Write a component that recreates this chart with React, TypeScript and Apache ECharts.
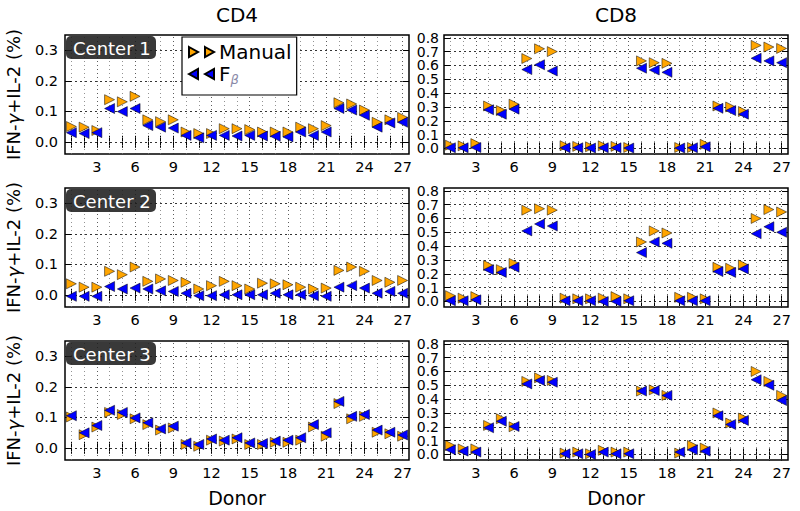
import React, { useEffect, useRef } from 'react';
import * as echarts from 'echarts';

const donors = [1, 2, 3, 4, 5, 6, 7, 8, 9, 10, 11, 12, 13, 14, 15, 16, 17, 18, 19, 20, 21, 22, 23, 24, 25, 26, 27];
const xTickLabels = [3, 6, 9, 12, 15, 18, 21, 24, 27];
const cd4YTicks = [0, 0.1, 0.2, 0.3];
const cd8YTicks = [0, 0.1, 0.2, 0.3, 0.4, 0.5, 0.6, 0.7, 0.8];
const centers = ['Center 1', 'Center 2', 'Center 3'];
const panels = ['CD4', 'CD8'];

// Center 1
const c1Cd4Manual = [0.050, 0.048, 0.037, 0.138, 0.131, 0.149, 0.072, 0.066, 0.072, 0.032, 0.027, 0.027, 0.043, 0.043, 0.040, 0.032, 0.032, 0.032, 0.048, 0.043, 0.053, 0.128, 0.124, 0.104, 0.064, 0.072, 0.080];
const c1Cd4Fbeta = [0.030, 0.027, 0.030, 0.109, 0.099, 0.109, 0.053, 0.048, 0.045, 0.021, 0.013, 0.021, 0.021, 0.019, 0.021, 0.019, 0.018, 0.016, 0.032, 0.021, 0.032, 0.109, 0.104, 0.087, 0.048, 0.062, 0.064];
const c1Cd8Manual = [0.024, 0.019, 0.035, 0.307, 0.274, 0.320, 0.650, 0.720, 0.700, 0.020, 0.015, 0.012, 0.019, 0.015, 0.007, 0.633, 0.620, 0.615, 0.007, 0.007, 0.030, 0.307, 0.300, 0.267, 0.745, 0.733, 0.723];
const c1Cd8Fbeta = [0.005, 0.005, 0.007, 0.280, 0.248, 0.284, 0.570, 0.605, 0.560, 0.005, 0.005, 0.003, 0.005, 0.005, 0.003, 0.580, 0.567, 0.550, 0.003, 0.005, 0.012, 0.290, 0.274, 0.248, 0.652, 0.633, 0.620];
// Center 2
const c2Cd4Manual = [0.036, 0.025, 0.025, 0.077, 0.066, 0.091, 0.044, 0.052, 0.047, 0.041, 0.019, 0.030, 0.044, 0.030, 0.019, 0.038, 0.036, 0.033, 0.025, 0.019, 0.022, 0.080, 0.091, 0.077, 0.047, 0.041, 0.047];
const c2Cd4Fbeta = [-0.005, -0.005, -0.005, 0.027, 0.019, 0.022, 0.019, 0.013, 0.011, 0.005, -0.003, -0.003, 0.000, 0.000, 0.000, 0.000, 0.005, 0.000, 0.000, -0.003, -0.005, 0.025, 0.030, 0.022, 0.005, 0.011, 0.005];
const c2Cd8Manual = [0.042, 0.024, 0.035, 0.260, 0.230, 0.275, 0.660, 0.670, 0.660, 0.024, 0.019, 0.019, 0.024, 0.035, 0.019, 0.430, 0.510, 0.495, 0.030, 0.030, 0.019, 0.247, 0.240, 0.264, 0.600, 0.664, 0.647];
const c2Cd8Fbeta = [0.005, 0.005, 0.012, 0.230, 0.210, 0.247, 0.510, 0.560, 0.545, 0.005, 0.005, 0.005, 0.000, 0.000, 0.005, 0.353, 0.430, 0.420, 0.005, 0.005, 0.005, 0.216, 0.210, 0.235, 0.490, 0.540, 0.500];
// Center 3
const c3Cd4Manual = [0.101, 0.043, 0.068, 0.116, 0.109, 0.095, 0.076, 0.058, 0.065, 0.011, 0.005, 0.025, 0.022, 0.029, 0.011, 0.011, 0.018, 0.018, 0.025, 0.068, 0.038, 0.145, 0.095, 0.103, 0.051, 0.046, 0.038];
const c3Cd4Fbeta = [0.105, 0.049, 0.073, 0.123, 0.116, 0.098, 0.082, 0.062, 0.071, 0.016, 0.011, 0.029, 0.025, 0.033, 0.016, 0.014, 0.022, 0.025, 0.033, 0.076, 0.049, 0.152, 0.103, 0.109, 0.058, 0.051, 0.042];
const c3Cd8Manual = [0.065, 0.040, 0.040, 0.210, 0.258, 0.200, 0.528, 0.554, 0.535, 0.010, 0.017, 0.005, 0.030, 0.017, 0.017, 0.458, 0.467, 0.427, 0.010, 0.065, 0.046, 0.300, 0.227, 0.263, 0.600, 0.528, 0.427];
const c3Cd8Fbeta = [0.034, 0.024, 0.017, 0.193, 0.240, 0.202, 0.510, 0.535, 0.522, 0.005, 0.005, 0.000, 0.017, 0.005, 0.005, 0.458, 0.462, 0.427, 0.017, 0.034, 0.024, 0.280, 0.217, 0.246, 0.540, 0.500, 0.390];

const manualRows = [[c1Cd4Manual, c1Cd8Manual], [c2Cd4Manual, c2Cd8Manual], [c3Cd4Manual, c3Cd8Manual]];
const fbetaRows = [[c1Cd4Fbeta, c1Cd8Fbeta], [c2Cd4Fbeta, c2Cd8Fbeta], [c3Cd4Fbeta, c3Cd8Fbeta]];

const FONT = 'DejaVu Sans';
const ORANGE = '#FFA500';
const BLUE = '#0000FF';

export default function App() {
  const ref = useRef<HTMLDivElement>(null);
  useEffect(() => {
    if (!ref.current) return;
    const chart = echarts.init(ref.current, undefined, { renderer: 'svg' });
    const lefts = [65, 444];
    const tops = [35, 188, 341];
    const W = 344;
    const H = 119;
    const grids: any[] = [];
    const xAxes: any[] = [];
    const yAxes: any[] = [];
    const series: any[] = [];
    const graphics: any[] = [];
    for (let r = 0; r < 3; r++) {
      for (let c = 0; c < 2; c++) {
        const g = r * 2 + c;
        grids.push({ left: lefts[c], top: tops[r], width: W, height: H, show: true, borderColor: '#000', borderWidth: 1.5, backgroundColor: 'transparent' });
        const yTicks = c === 0 ? cd4YTicks : cd8YTicks;
        const yMin = -0.04;
        const yMax = c === 0 ? 0.35 : 0.82;
        const xBase = {
          gridIndex: g, type: 'value', min: 0.5, max: 27.5,
          axisLine: { show: false },
          axisTick: { show: true, inside: true, length: 6, customValues: donors, lineStyle: { color: '#000', width: 1 } },
          splitLine: { show: false },
        };
        xAxes.push({
          ...xBase, position: 'bottom',
          axisLabel: { show: true, customValues: xTickLabels, margin: 5, fontSize: 14.5, color: '#000', fontFamily: FONT },
          name: r === 2 ? 'Donor' : '', nameLocation: 'middle', nameGap: 28,
          nameTextStyle: { fontSize: 19, color: '#000', fontFamily: FONT },
        });
        xAxes.push({ ...xBase, position: 'top', axisLabel: { show: false } });
        const yBase = {
          gridIndex: g, type: 'value', min: yMin, max: yMax,
          axisLine: { show: false },
          axisTick: { show: true, inside: true, length: 6, customValues: yTicks, lineStyle: { color: '#000', width: 1 } },
          splitLine: { show: false },
        };
        yAxes.push({
          ...yBase, position: 'left',
          axisLabel: {
            show: true, customValues: yTicks, margin: c === 0 ? 7 : 5,
            fontSize: c === 0 ? 14.5 : 14, lineHeight: c === 0 ? 16 : 13,
            showMinLabel: true, showMaxLabel: true, hideOverlap: false,
            color: '#000', fontFamily: FONT, formatter: (v: number) => v.toFixed(1),
          },
          name: c === 0 ? 'IFN-{g|γ}+IL-2 (%)' : '', nameLocation: 'middle', nameGap: 43,
          nameTextStyle: { fontSize: 18, color: '#000', fontFamily: FONT, rich: { g: { fontSize: 18, fontStyle: 'italic', fontFamily: FONT, color: '#000' } } },
        });
        yAxes.push({ ...yBase, position: 'right', axisLabel: { show: false } });
        const gridLines: any[] = [];
        donors.forEach((d) => gridLines.push({ xAxis: d, lineStyle: { color: d % 3 === 0 ? '#333' : '#777', type: [1, 3], width: 0.8 } }));
        yTicks.forEach((v) => gridLines.push({ yAxis: v, lineStyle: { color: '#000', type: [2, 3], width: 0.8 } }));
        series.push({
          type: 'scatter', name: 'Manual', xAxisIndex: 2 * g, yAxisIndex: 2 * g,
          data: donors.map((d, i) => [d, manualRows[r][c][i]]),
          symbol: 'triangle', symbolSize: 10, symbolRotate: -90,
          itemStyle: { color: ORANGE, borderColor: '#000', borderWidth: 0.5, opacity: 1 },
          z: 10, silent: true,
          markLine: { silent: true, symbol: ['none', 'none'], label: { show: false }, animation: false, data: gridLines },
        });
        series.push({
          type: 'scatter', name: 'Fβ', xAxisIndex: 2 * g, yAxisIndex: 2 * g,
          data: donors.map((d, i) => [d, fbetaRows[r][c][i]]),
          symbol: 'triangle', symbolSize: 10, symbolRotate: 90,
          itemStyle: { color: BLUE, borderColor: '#000', borderWidth: 0.5, opacity: 1 },
          z: 11, silent: true,
        });
      }
      graphics.push({
        type: 'rect', shape: { x: 66, y: tops[r] + 1, width: 90, height: 23, r: 5 },
        style: { fill: 'rgba(30,30,30,0.88)' }, z: 100,
      });
      graphics.push({
        type: 'text', x: 73, y: tops[r] + 13,
        style: { text: centers[r], fill: '#fff', font: `18px "${FONT}"`, textVerticalAlign: 'middle' }, z: 101,
      });
    }
    panels.forEach((p, c) => {
      graphics.push({
        type: 'text', x: lefts[c] + W / 2, y: 15,
        style: { text: p, fill: '#000', font: `20px "${FONT}"`, textAlign: 'center', textVerticalAlign: 'middle' },
      });
    });

    chart.setOption({
      animation: false,
      grid: grids,
      xAxis: xAxes,
      yAxis: yAxes,
      series,
      graphic: graphics,
      legend: {
        orient: 'vertical', left: 182, top: 37,
        backgroundColor: '#fff', borderColor: '#000', borderWidth: 1.2, borderRadius: 0,
        padding: [5, 5, 9, 6], itemGap: 0, itemWidth: 25, itemHeight: 10,
        symbolRotate: 0,
        selectedMode: false,
        data: [
          { name: 'Manual', icon: 'path://M0,0L9,5L0,10ZM16,0L25,5L16,10Z' },
          { name: 'Fβ', icon: 'path://M0,5L9,0L9,10ZM16,5L25,0L25,10Z' },
        ],
        formatter: (name: string) => (name === 'Fβ' ? 'F{b|β}' : name),
        textStyle: {
          fontSize: 20, lineHeight: 20, color: '#000', fontFamily: FONT,
          rich: { b: { fontSize: 13, fontStyle: 'italic', color: '#8a8aa8', verticalAlign: 'bottom', lineHeight: 24, fontFamily: FONT } },
        },
        z: 50,
      },
    });
    return () => chart.dispose();
  }, []);
  return <div ref={ref} style={{ position: 'fixed', left: 0, top: 0, width: 800, height: 511, background: '#fff' }} />;
}
